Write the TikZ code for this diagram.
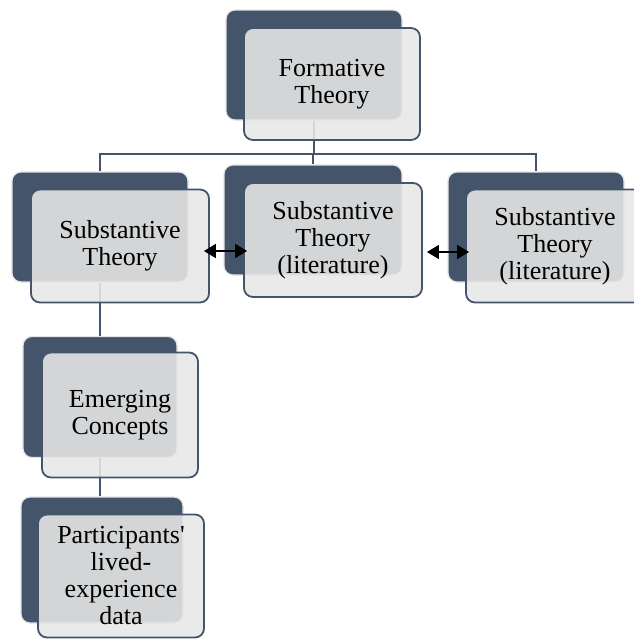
\documentclass[tikz,border=0pt]{standalone}
\usepackage{fontspec}
\setmainfont{Liberation Serif}
\newfontfamily\timesfont{Liberation Serif}
\usetikzlibrary{arrows.meta,calc}
\definecolor{slate}{HTML}{44546A}
\definecolor{paleedge}{HTML}{E4E4E4}
\definecolor{panel}{HTML}{E7E7E7}
\begin{document}
\begin{tikzpicture}[x=1pt, y=-1pt,
    backbox/.style={rectangle, rounded corners=9pt, draw=paleedge, line width=1.2pt,
                    fill=slate, inner sep=0pt},
    frontbox/.style={rectangle, rounded corners=9pt, draw=slate, line width=1.8pt,
                     fill=panel, fill opacity=0.88, text opacity=1, inner sep=0pt,
                     align=center, font=\timesfont\fontsize{26}{27}\selectfont},
    link/.style={draw=slate, line width=2pt},
    biarrow/.style={black, line width=1.6pt, {Triangle[length=12pt,width=14pt]}-{Triangle[length=12pt,width=14pt]}}
]
    \useasboundingbox (0,0) rectangle (633,641);

    % back plates
    \node[backbox, minimum width=176pt, minimum height=110pt] (formB) at (314,65)  {};
    \node[backbox, minimum width=176pt, minimum height=110pt] (subB)  at (100,227) {};
    \node[backbox, minimum width=178pt, minimum height=110pt] (litAB) at (313,220) {};
    \node[backbox, minimum width=176pt, minimum height=110pt] (litBB) at (536,227) {};
    \node[backbox, minimum width=154pt, minimum height=121pt] (emB)   at (100,397) {};
    \node[backbox, minimum width=162pt, minimum height=126pt] (partB) at (102,560) {};

    % tree lines
    \draw[link] (formB.south) -- ++(0,33) -| (subB.north);
    \draw[link] (formB.south) -- ++(0,33) -| (litAB.north);
    \draw[link] (formB.south) -- ++(0,33) -| (litBB.north);
    \draw[link] (subB.south) -- (emB.north);
    \draw[link] (emB.south) -- (emB.south |- partB.north);

    % front panels
    \node[frontbox, minimum width=176pt, minimum height=112pt] (form) at (332,84)  {Formative\\Theory};
    \node[frontbox, minimum width=178pt, minimum height=113pt] (sub)  at (120,246) {Substantive\\Theory};
    \node[frontbox, minimum width=178pt, minimum height=114pt] (litA) at (333,240) {Substantive\\Theory\\(literature)};
    \node[frontbox, minimum width=178pt, minimum height=113pt] (litB) at (555,246) {Substantive\\Theory\\(literature)};
    \node[frontbox, minimum width=156pt, minimum height=125pt] (em)   at (120,415) {Emerging\\Concepts};
    \node[frontbox, minimum width=166pt, minimum height=123pt] (part) at (121,576) {Participants\textquotesingle\\lived-\\experience\\data};

    \draw[biarrow] ($(sub.east)+(-6,5)$) -- ($(sub.east -| litA.west)+(4,5)$);
    \draw[biarrow] ($(litA.east)+(4,12)$) -- ($(litA.east -| litB.west)+(4,12)$);
\end{tikzpicture}
\end{document}
